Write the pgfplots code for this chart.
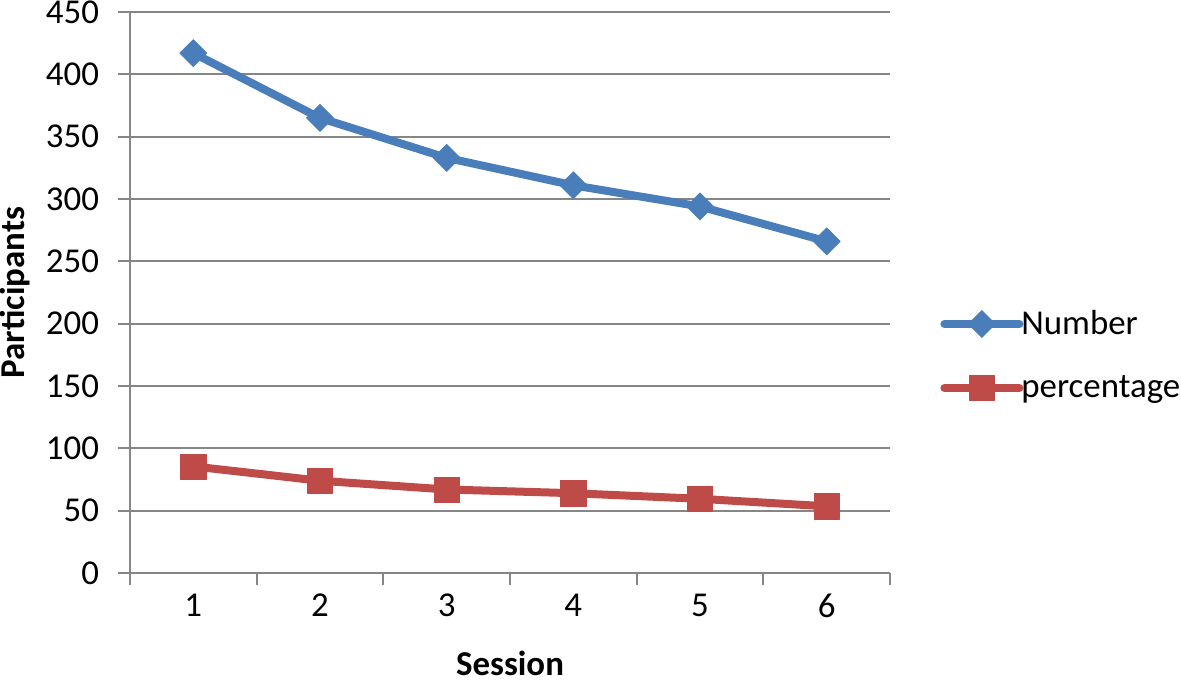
\documentclass[border=0pt]{standalone}
\usepackage{fontspec}
\setmainfont{Carlito}
\usepackage{pgfplots}
\pgfplotsset{compat=1.18}
\definecolor{serblue}{HTML}{4A7EBB}
\definecolor{serred}{HTML}{BE4B48}
\definecolor{gridgray}{HTML}{868686}
\newcommand{\chartfont}{\fontsize{17.5}{21}\selectfont}
\begin{document}
\begin{tikzpicture}
\begin{axis}[
  scale only axis,
  width=380bp, height=280.5bp,
  xmin=0.5, xmax=6.5,
  ymin=0, ymax=450,
  xtick={1,2,3,4,5,6},
  minor xtick={0.5,1.5,2.5,3.5,4.5,5.5,6.5},
  ytick={0,50,...,450},
  axis x line*=bottom,
  axis y line*=left,
  axis line style={draw=gridgray, line width=1bp, -},
  ymajorgrids,
  major grid style={draw=gridgray, line width=1bp},
  tick align=outside,
  major tick length=6bp,
  minor tick length=6bp,
  every tick/.style={draw=gridgray, line width=1bp},
  major x tick style={draw=none},
  /pgf/number format/assume math mode=true,
  tick label style={font=\chartfont, text=black},
  yticklabel style={xshift=-6bp},
  xticklabel style={yshift=-1bp},
  label style={font=\chartfont\bfseries},
  xlabel={Session},
  ylabel={Participants},
  xlabel style={at={(axis description cs:0.5,-0.161)}, anchor=center},
  ylabel style={at={(axis description cs:-0.151,0.5)}, anchor=center},
  legend style={font=\chartfont, draw=none, fill=none,
    at={(axis description cs:1.0658,0.3877)}, anchor=west,
    inner sep=0pt, row sep=15bp},
  legend cell align=left,
  legend image code/.code={
    \draw[mark repeat=2,mark phase=2,#1] plot coordinates {(0bp,0bp) (18.75bp,0bp) (37.5bp,0bp)};
  },
]
\addplot[serblue, line width=4bp, line cap=round, line join=round,
  mark=square*, mark size=4.8bp, mark options={rotate=45, fill=serblue, draw=serblue, line width=0.3bp}]
  coordinates {(1,417) (2,365) (3,333) (4,311) (5,294) (6,266)};
\addlegendentry{\hspace*{-3bp}Number}
\addplot[serred, line width=4bp, line cap=round, line join=round,
  mark=square*, mark size=6.3bp, mark options={fill=serred, draw=serred, line width=0.3bp}]
  coordinates {(1,85.5) (2,74) (3,67) (4,64) (5,59.5) (6,53.5)};
\addlegendentry{\hspace*{-3bp}percentage}
\end{axis}
\pgfresetboundingbox
\path[use as bounding box] (-65bp,-55.5bp) rectangle (525.5bp,286.5bp);
\end{tikzpicture}
\end{document}
